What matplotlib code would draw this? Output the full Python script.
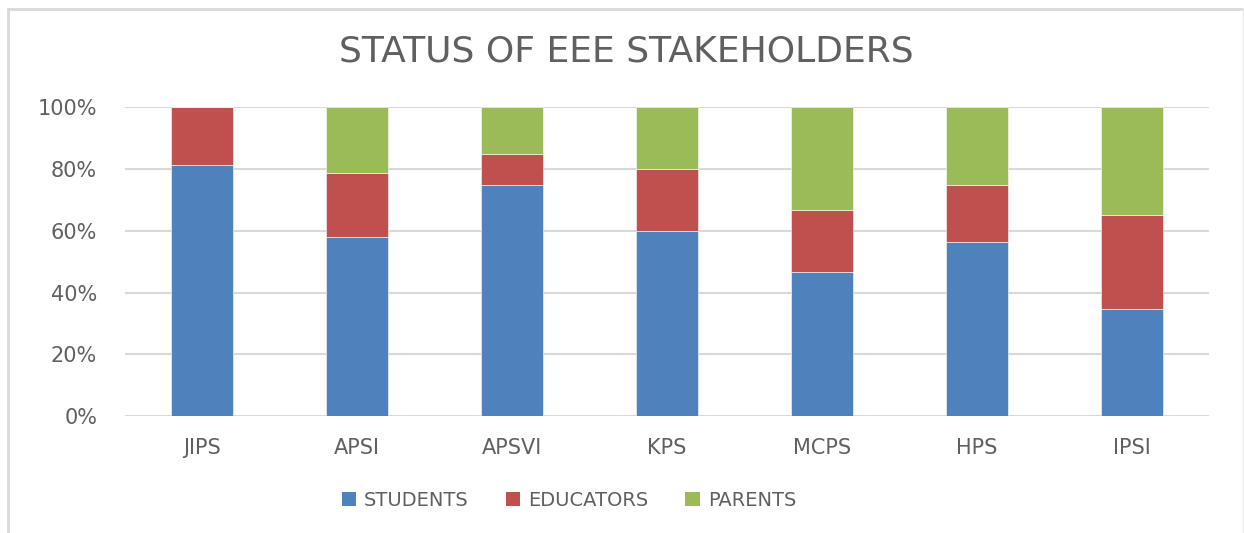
import matplotlib
matplotlib.use("Agg")
import matplotlib.pyplot as plt
from matplotlib.lines import Line2D
from matplotlib.patches import Patch
import numpy as np

categories = ["JIPS", "APSI", "APSVI", "KPS", "MCPS", "HPS", "IPSI"]
students = [81.2, 58.0, 74.8, 59.9, 46.7, 56.3, 34.7]
educators = [18.8, 20.7, 10.2, 20.0, 19.9, 18.6, 30.3]
parents = [0.0, 21.3, 15.0, 20.1, 33.4, 25.1, 35.0]
series_names = ["STUDENTS", "EDUCATORS", "PARENTS"]
colors = ["#4F81BD", "#C0504D", "#9BBB59"]
yticks = [0, 20, 40, 60, 80, 100]

plt.rcParams['font.family'] = ['DejaVu Sans']
text_color = "#606060"

fig = plt.figure(figsize=(12.44, 5.33), dpi=100)
ax = fig.add_axes([125/1244, 1-416/533, (1209-125)/1244, (416-107.3)/533])

x = np.arange(len(categories))
bottom = np.zeros(len(categories))
for vals, name, c in zip([students, educators, parents], series_names, colors):
    ax.bar(x, vals, width=0.4, bottom=bottom, color=c, label=name, zorder=3,
           edgecolor="white", linewidth=0.4)
    bottom += np.array(vals)

ax.set_xlim(-0.5, len(categories) - 0.5)
ax.set_ylim(0, 100)
ax.set_yticks(yticks)
ax.set_yticklabels([f"{v}%" for v in yticks], fontsize=15, color=text_color)
ax.set_xticks(x)
ax.set_xticklabels(categories, fontsize=15, color=text_color)
ax.tick_params(axis='both', length=0)
ax.tick_params(axis='y', pad=20)
ax.tick_params(axis='x', pad=16)
ax.grid(axis='y', color="#D9D9D9", linewidth=1.5, zorder=0)
for s in ax.spines.values():
    s.set_visible(False)

fig.text(626/1244, 1-52/533, "STATUS OF EEE STAKEHOLDERS", ha='center', va='center',
         fontsize=26, color=text_color)

handles = [Patch(facecolor=c, edgecolor='none') for c in colors]
fig.legend(handles, series_names, loc='center', bbox_to_anchor=(569/1244, 1-500/533),
           ncol=3, frameon=False, fontsize=14, labelcolor=text_color,
           handlelength=0.75, handleheight=0.75, handletextpad=0.4, columnspacing=1.9)

# chart border
fig.add_artist(Line2D([8/1244, 8/1244], [0, 1-9/533], transform=fig.transFigure, color="#D9D9D9", linewidth=2))
fig.add_artist(Line2D([8/1244, 1243/1244], [1-9/533, 1-9/533], transform=fig.transFigure, color="#D9D9D9", linewidth=2))
fig.add_artist(Line2D([1243/1244, 1243/1244], [0, 1-9/533], transform=fig.transFigure, color="#E8E8E8", linewidth=1))

fig.savefig("out.png", dpi=100, facecolor="white")
